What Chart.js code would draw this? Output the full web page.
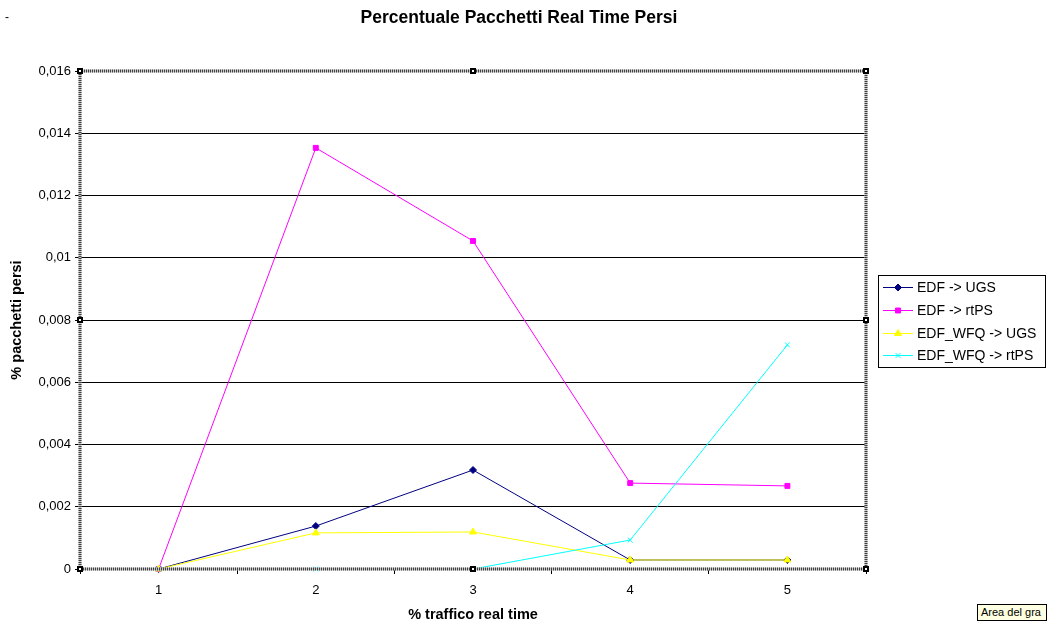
<!DOCTYPE html>
<html>
<head>
<meta charset="utf-8">
<script src="https://cdn.jsdelivr.net/npm/chart.js@4/dist/chart.umd.min.js"></script>
<style>
  html, body { margin: 0; padding: 0; background: #fff; }
  #wrap { position: relative; width: 1051px; height: 624px; }
  #tip {
    position: absolute; left: 977px; top: 604px; height: 17px; width: 70px;
    background: #ffffe1; border: 1px solid #000; box-sizing: border-box;
    font: 11px "Liberation Sans", Arial, sans-serif; line-height: 15px;
    padding-left: 3px; overflow: hidden; white-space: nowrap; color: #000;
  }
  #dash { position: absolute; left: 5px; top: 10px; font: 12px "Liberation Sans", Arial, sans-serif; }
</style>
</head>
<body>
<div id="wrap">
  <canvas id="c" width="1051" height="624"></canvas>
  <div id="dash">-</div>
  <div id="tip">Area del gra</div>
</div>
<script>
// Percentuale di pacchetti real time persi per schedulatore
const categories = ['1', '2', '3', '4', '5'];
const edfUgs     = [0, 0.00138, 0.00318, 0.00029, 0.00029];
const edfRtps    = [0, 0.01353, 0.01054, 0.00276, 0.00267];
const wfqUgs     = [0, 0.00116, 0.00119, 0.00029, 0.00029];
const wfqRtps    = [0, 0, 0, 0.00093, 0.0072];
const seriesNames = ['EDF -> UGS', 'EDF -> rtPS', 'EDF_WFQ -> UGS', 'EDF_WFQ -> rtPS'];
const yTicks = [0, 0.002, 0.004, 0.006, 0.008, 0.01, 0.012, 0.014, 0.016];

const FONT = '"Liberation Sans", Arial, sans-serif';

function fmtComma(v) {
  const r = Math.round(v * 1000) / 1000;
  return String(r).replace('.', ',');
}

// Title, axis titles, frame with handles, and boxed legend
const decorations = {
  id: 'decorations',
  afterDraw(chart) {
    const ctx = chart.ctx;
    const a = chart.chartArea;
    ctx.save();
    // title
    ctx.fillStyle = '#000';
    ctx.font = 'bold 17.5px ' + FONT;
    ctx.textAlign = 'center';
    ctx.textBaseline = 'middle';
    ctx.fillText('Percentuale Pacchetti Real Time Persi', 519, 18);
    // x axis title
    ctx.font = 'bold 14.5px ' + FONT;
    ctx.fillText('% traffico real time', (a.left + a.right) / 2, 615);
    // y axis title
    ctx.save();
    ctx.translate(17, (a.top + a.bottom) / 2);
    ctx.rotate(-Math.PI / 2);
    ctx.fillText('% pacchetti persi', 0, 0);
    ctx.restore();

    // hatched frame around the plot area
    ctx.lineWidth = 3;
    ctx.strokeStyle = '#c8c8c8';
    ctx.setLineDash([]);
    ctx.strokeRect(a.left, a.top, a.right - a.left, a.bottom - a.top);
    ctx.strokeStyle = '#404040';
    ctx.setLineDash([1, 1]);
    ctx.strokeRect(a.left, a.top, a.right - a.left, a.bottom - a.top);
    ctx.setLineDash([]);

    // selection handles
    const mx = (a.left + a.right) / 2, my = (a.top + a.bottom) / 2;
    const pts = [[a.left, a.top], [mx, a.top], [a.right, a.top], [a.right, my],
                 [a.right, a.bottom], [mx, a.bottom], [a.left, a.bottom], [a.left, my]];
    ctx.fillStyle = '#000';
    pts.forEach(p => ctx.fillRect(Math.round(p[0]) - 3, Math.round(p[1]) - 3, 6, 6));
    ctx.fillStyle = '#fff';
    pts.forEach(p => ctx.fillRect(Math.round(p[0]) - 1, Math.round(p[1]) - 1, 2, 2));

    // legend box
    const lx = 878.5, ly = 275.5, lw = 167, lh = 92;
    ctx.fillStyle = '#fff';
    ctx.fillRect(lx, ly, lw, lh);
    ctx.strokeStyle = '#000';
    ctx.lineWidth = 1;
    ctx.strokeRect(lx, ly, lw, lh);
    ctx.font = '14px ' + FONT;
    ctx.textAlign = 'left';
    ctx.textBaseline = 'middle';
    chart.data.datasets.forEach((ds, i) => {
      const y = Math.round(287 + i * 22.8);
      ctx.strokeStyle = ds.borderColor;
      ctx.lineWidth = 1;
      ctx.beginPath();
      ctx.moveTo(883, y + 0.5);
      ctx.lineTo(913, y + 0.5);
      ctx.stroke();
      ctx.fillStyle = ds.pointBackgroundColor;
      ctx.strokeStyle = ds.pointBorderColor;
      Chart.helpers.drawPoint(ctx, {
        pointStyle: ds.pointStyle, radius: ds.pointRadius, rotation: 0,
        borderWidth: 1
      }, 898, y + 0.5);
      ctx.fillStyle = '#000';
      ctx.fillText(ds.label, 917, y + 1);
    });
    ctx.restore();
  }
};

const colors = ['#000080', '#ff00ff', '#ffff00', '#00ffff'];
const styles = ['rectRot', 'rect', 'triangle', 'crossRot'];
const radii = [3.5, 3.5, 4, 3.5];
const values = [edfUgs, edfRtps, wfqUgs, wfqRtps];

const datasets = values.map((vals, i) => ({
  label: seriesNames[i],
  data: vals,
  borderColor: colors[i],
  backgroundColor: colors[i],
  pointBackgroundColor: colors[i],
  pointBorderColor: colors[i],
  pointStyle: styles[i],
  pointRadius: radii[i],
  pointBorderWidth: 1,
  borderWidth: 1,
  tension: 0,
  clip: false,
  order: 4 - i
}));

new Chart(document.getElementById('c'), {
  type: 'line',
  data: { labels: categories, datasets },
  options: {
    responsive: false,
    animation: false,
    events: [],
    layout: { padding: { top: 71, right: 185, left: 0, bottom: 0 } },
    plugins: { legend: { display: false }, title: { display: false }, tooltip: { enabled: false } },
    scales: {
      x: {
        offset: true,
        afterFit(scale) { scale.height = 55; },
        grid: { offset: true, drawOnChartArea: false, drawTicks: true, tickLength: 5, color: '#000' },
        border: { display: false },
        ticks: { color: '#000', font: { family: FONT, size: 13 }, padding: 9 }
      },
      y: {
        min: 0, max: 0.016,
        afterFit(scale) { scale.width = 80; },
        afterBuildTicks(scale) { scale.ticks = yTicks.map(v => ({ value: v })); },
        grid: { color: '#000', lineWidth: 1, drawTicks: true, tickLength: 5 },
        border: { display: false },
        ticks: {
          color: '#000', font: { family: FONT, size: 13 }, padding: 4,
          callback: v => fmtComma(v)
        }
      }
    }
  },
  plugins: [decorations]
});
</script>
</body>
</html>
